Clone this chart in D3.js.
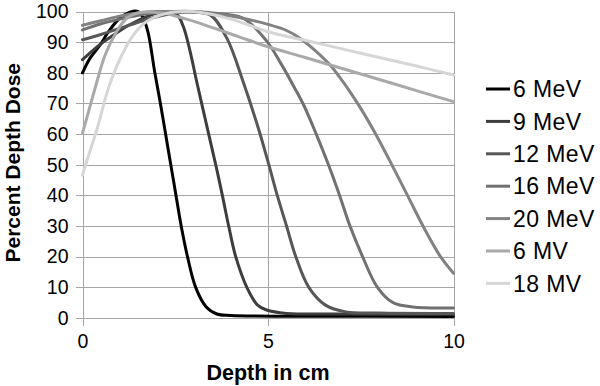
<!DOCTYPE html>
<html>
<head>
<meta charset="utf-8">
<script src="https://cdn.jsdelivr.net/npm/d3@7"></script>
<style>
  html, body { margin: 0; padding: 0; background: #fff; }
  svg { display: block; font-family: 'Liberation Sans', Arial, Helvetica, sans-serif; }
</style>
</head>
<body>
<svg id="chart" width="600" height="386"></svg>
<script>
// depth (cm), percent depth dose
const mev6 = [[0, 80], [0.2, 84.7], [0.47, 89], [0.7, 93.4], [1.0, 97.8], [1.28, 99.8], [1.5, 100],
  [1.64, 97.8], [1.77, 93], [1.95, 80], [2.1, 70], [2.24, 60], [2.38, 50], [2.52, 40], [2.66, 30],
  [2.83, 20], [3.05, 10], [3.33, 3.7], [3.62, 1.3], [4, 0.8], [6, 0.6], [10, 0.5]];
const mev9 = [[0, 84.3], [0.25, 87], [0.5, 89.5], [0.8, 92], [1.1, 94.5], [1.4, 96.5], [1.7, 98.2],
  [2.0, 99.5], [2.25, 100], [2.55, 99], [2.72, 95], [2.9, 87], [3.08, 77], [3.25, 68], [3.42, 59],
  [3.6, 49.5], [3.77, 40], [3.94, 30], [4.13, 20], [4.43, 10], [4.72, 4.2], [4.96, 2.6], [5.5, 1.5],
  [7, 1.3], [10, 1.2]];
const mev12 = [[0, 90.8], [0.5, 92.5], [1.0, 94.5], [1.5, 96.5], [2.0, 98.3], [2.5, 99.5], [2.9, 99.8],
  [3.44, 98.9], [3.89, 91.3], [4.33, 77.1], [4.74, 61.9], [5.0, 51], [5.25, 40], [5.5, 30], [5.75, 20],
  [6.1, 10], [6.55, 4.2], [7.1, 2], [8, 1.6], [10, 1.5]];
const mev16 = [[0, 94], [0.5, 96], [1.0, 97.5], [1.5, 98.8], [2.0, 99.7], [2.5, 100], [3.0, 100],
  [3.5, 99.5], [4.33, 97.8], [4.96, 90.4], [5.35, 83], [5.72, 75], [5.98, 69], [6.3, 60], [6.63, 50],
  [6.93, 40], [7.21, 30], [7.55, 20], [7.95, 10], [8.37, 5], [8.9, 3.6], [10, 3.3]];
const mev20 = [[0, 95.5], [0.5, 97], [1.0, 98.5], [1.5, 99.5], [2.0, 100], [2.5, 100], [3.0, 99.8],
  [3.5, 99.3], [4.0, 98.5], [4.5, 97.3], [5.0, 95.8], [5.5, 93.8], [5.86, 91.3], [6.25, 87.5],
  [6.67, 82.6], [6.94, 78.4], [7.17, 74.5], [7.57, 67], [7.97, 58.5], [8.38, 49], [8.78, 39.5],
  [9.2, 29.5], [9.65, 20], [10, 14.6]];
const mv6 = [[0, 60.4], [0.11, 65], [0.34, 75], [0.61, 85.8], [0.92, 93.4], [1.19, 97.8], [1.55, 99.7],
  [2.18, 99.4], [2.8, 97.5], [3.44, 95], [4.2, 91.8], [5, 88.5], [6, 85], [7, 81.4], [8, 77.8],
  [9, 74.2], [10, 70.6]];
const mv18 = [[0, 46.6], [0.11, 51], [0.4, 62], [0.7, 75], [1.05, 85.5], [1.37, 92.3], [1.73, 96.7],
  [2.27, 99.4], [2.9, 100], [3.5, 99], [4, 97.5], [4.5, 95.5], [5, 93.4], [6, 90.6], [7, 87.8],
  [8, 85], [9, 82.2], [10, 79.3]];

const seriesNames = ['6 MeV', '9 MeV', '12 MeV', '16 MeV', '20 MeV', '6 MV', '18 MV'];
const seriesData = [mev6, mev9, mev12, mev16, mev20, mv6, mv18];
const seriesColors = ['#000000', '#3d3d3d', '#575757', '#717171', '#828282', '#a9a9a9', '#d6d6d6'];

const xTicks = [0, 5, 10];
const yTicks = [0, 10, 20, 30, 40, 50, 60, 70, 80, 90, 100];

const svg = d3.select('#chart');

const x = d3.scaleLinear().domain([0, 10]).range([82.5, 453.5]);
const y = d3.scaleLinear().domain([0, 100]).range([318, 11.5]);

const grid = svg.append('g')
  .attr('stroke', '#a6a6a6')
  .attr('stroke-width', 1.4)
  .attr('shape-rendering', 'crispEdges');

grid.selectAll('.hgrid')
  .data(yTicks)
  .enter()
  .append('line')
  .attr('class', 'hgrid')
  .attr('x1', x(0) - 7)
  .attr('x2', x(10))
  .attr('y1', d => Math.round(y(d)) + 0.5)
  .attr('y2', d => Math.round(y(d)) + 0.5);

grid.selectAll('.vgrid')
  .data(xTicks)
  .enter()
  .append('line')
  .attr('class', 'vgrid')
  .attr('x1', d => Math.round(x(d)) + 0.5)
  .attr('x2', d => Math.round(x(d)) + 0.5)
  .attr('y1', y(100))
  .attr('y2', y(0) + 8);

// tick labels through d3 axes, lines hidden (grid covers them)
const yAxis = svg.append('g')
  .attr('transform', `translate(${x(0)},0)`)
  .call(d3.axisLeft(y).tickValues(yTicks).tickSize(0).tickPadding(14));

const xAxis = svg.append('g')
  .attr('transform', `translate(0,${y(0)})`)
  .call(d3.axisBottom(x).tickValues(xTicks).tickSize(0).tickPadding(16));

[yAxis, xAxis].forEach((axis) => {
  axis.select('.domain').remove();
  axis.selectAll('text')
    .attr('fill', '#000')
    .style('font-size', '19.5px')
    .style('font-family', '"Liberation Sans", Arial, sans-serif');
});

const line = d3.line()
  .x(d => x(d[0]))
  .y(d => y(d[1]))
  .curve(d3.curveCatmullRom.alpha(0.5));

svg.append('g')
  .selectAll('path')
  .data(seriesData)
  .enter()
  .append('path')
  .attr('d', line)
  .attr('fill', 'none')
  .attr('stroke', (d, i) => seriesColors[i])
  .attr('stroke-width', 3)
  .attr('stroke-linejoin', 'round')
  .attr('stroke-linecap', 'round');

// axis titles
svg.append('text')
  .attr('x', (x(0) + x(10)) / 2)
  .attr('y', 380)
  .attr('text-anchor', 'middle')
  .style('font-size', '21.5px')
  .style('font-weight', 'bold')
  .text('Depth in cm');

svg.append('text')
  .attr('transform', `translate(20,${(y(0) + y(100)) / 2 - 2}) rotate(-90)`)
  .attr('text-anchor', 'middle')
  .style('font-size', '21px')
  .style('font-weight', 'bold')
  .text('Percent Depth Dose');

// legend
const legend = svg.append('g')
  .selectAll('g')
  .data(seriesNames)
  .enter()
  .append('g')
  .attr('transform', (d, i) => `translate(486,${89 + i * 32.4})`);

legend.append('line')
  .attr('x1', 0)
  .attr('x2', 24)
  .attr('stroke', (d, i) => seriesColors[i])
  .attr('stroke-width', 3);

legend.append('text')
  .attr('x', 27)
  .attr('dy', '0.36em')
  .style('font-size', '23px')
  .style('letter-spacing', '0.4px')
  .text(d => d);
</script>
</body>
</html>
